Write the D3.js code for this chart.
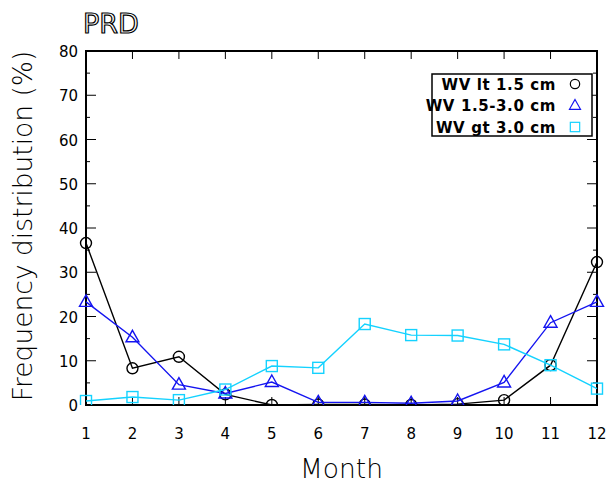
<meta charset="utf-8">
<style>
  body { margin: 0; background: #fff; }
  text { font-family: "DejaVu Sans", sans-serif; fill: #000; }
  .tick-label { font-size: 15px; }
  .axis-title { font-size: 26.5px; font-weight: 200; }
</style>
<div id="chart"></div>
<script src="https://d3js.org/d3.v7.min.js"></script>
<script>
  // data
  var months = [1, 2, 3, 4, 5, 6, 7, 8, 9, 10, 11, 12];
  var wvLow = [36.6, 8.3, 10.9, 2.4, 0, 0.1, 0.1, 0, 0.2, 1.1, 9, 32.3];
  var wvMid = [23.3, 15.3, 4.6, 2.6, 5.2, 0.6, 0.6, 0.4, 0.9, 5.1, 18.6, 23.3];
  var wvHigh = [0.9, 1.8, 1.1, 3.5, 8.8, 8.4, 18.3, 15.8, 15.7, 13.7, 9, 3.7];
  var yTicks = [0, 10, 20, 30, 40, 50, 60, 70, 80];
  var seriesNames = ["WV lt 1.5 cm", "WV 1.5-3.0 cm", "WV gt 3.0 cm"];

  var width = 607, height = 483;
  var margin = {top: 51, right: 10, bottom: 78, left: 86};
  var plotW = width - margin.left - margin.right,
      plotH = height - margin.top - margin.bottom;

  var x = d3.scaleLinear().domain([1, 12]).range([0, plotW]);
  var y = d3.scaleLinear().domain([0, 80]).range([plotH, 0]);

  var svg = d3.select("#chart").append("svg")
      .attr("width", width)
      .attr("height", height);

  var g = svg.append("g")
      .attr("transform", "translate(" + margin.left + "," + margin.top + ")");

  // frame
  g.append("rect")
      .attr("width", plotW)
      .attr("height", plotH)
      .attr("fill", "none")
      .attr("stroke", "#000")
      .attr("stroke-width", 2);

  // x ticks, bottom and top, pointing inward
  months.forEach(function (m) {
    g.append("line").attr("x1", x(m)).attr("x2", x(m))
        .attr("y1", plotH).attr("y2", plotH - 8).attr("stroke", "#000");
    g.append("line").attr("x1", x(m)).attr("x2", x(m))
        .attr("y1", 0).attr("y2", 8).attr("stroke", "#000");
    g.append("text").attr("class", "tick-label")
        .attr("x", x(m)).attr("y", plotH + 34)
        .attr("text-anchor", "middle")
        .text(m);
  });

  // y ticks: major every 10, minor every 5, both sides
  d3.range(0, 81, 5).forEach(function (v) {
    var len = v % 10 === 0 ? 10 : 4;
    g.append("line").attr("x1", 0).attr("x2", len)
        .attr("y1", y(v)).attr("y2", y(v)).attr("stroke", "#000");
    g.append("line").attr("x1", plotW).attr("x2", plotW - len)
        .attr("y1", y(v)).attr("y2", y(v)).attr("stroke", "#000");
  });
  yTicks.forEach(function (v) {
    g.append("text").attr("class", "tick-label")
        .attr("x", -8).attr("y", y(v) + 6)
        .attr("text-anchor", "end")
        .text(v);
  });

  var series = [
    {name: seriesNames[0], values: wvLow, color: "#000000", sym: "circle"},
    {name: seriesNames[1], values: wvMid, color: "#1414f0", sym: "triangle"},
    {name: seriesNames[2], values: wvHigh, color: "#14d2ff", sym: "square"}
  ];

  var line = d3.line()
      .x(function (d, i) { return x(months[i]); })
      .y(function (d) { return y(d); });

  function symbol(sel, sym, color) {
    if (sym === "circle") {
      sel.append("circle").attr("r", 5.5)
          .attr("fill", "none").attr("stroke", color).attr("stroke-width", 1.4);
    } else if (sym === "triangle") {
      sel.append("path").attr("d", "M0,-7L6.5,4.5L-6.5,4.5Z")
          .attr("fill", "none").attr("stroke", color).attr("stroke-width", 1.4);
    } else {
      sel.append("rect").attr("x", -5.5).attr("y", -5.5)
          .attr("width", 11).attr("height", 11)
          .attr("fill", "none").attr("stroke", color).attr("stroke-width", 1.4);
    }
  }

  svg.append("clipPath").attr("id", "clip")
      .append("rect").attr("x", -8).attr("y", -8)
      .attr("width", plotW + 16).attr("height", plotH + 8);

  series.forEach(function (s) {
    var sg = g.append("g").attr("clip-path", "url(#clip)");
    sg.append("path")
        .datum(s.values)
        .attr("d", line)
        .attr("fill", "none")
        .attr("stroke", s.color)
        .attr("stroke-width", 1.4);
    s.values.forEach(function (v, i) {
      var p = sg.append("g")
          .attr("transform", "translate(" + x(months[i]) + "," + y(v) + ")");
      symbol(p, s.sym, s.color);
    });
  });

  // legend
  var legend = svg.append("g").attr("transform", "translate(432,74)");
  legend.append("rect")
      .attr("width", 160).attr("height", 62)
      .attr("fill", "#fff").attr("stroke", "#000").attr("stroke-width", 1.5);
  series.forEach(function (s, i) {
    var ly = 10 + i * 21.5;
    legend.append("text")
        .attr("x", 124).attr("y", ly + 5.5)
        .attr("text-anchor", "end")
        .style("font-size", "15px")
        .style("font-weight", "bold")
        .style("letter-spacing", "0.6px")
        .text(s.name);
    var sg = legend.append("g").attr("transform", "translate(143," + ly + ") scale(0.85)");
    symbol(sg, s.sym, s.color);
  });

  // title, outlined letters
  svg.append("text")
      .attr("x", 83).attr("y", 33)
      .style("font-size", "27px")
      .style("fill", "#fff")
      .attr("stroke", "#000")
      .attr("stroke-width", 1.2)
      .text("PRD");

  // axis titles
  svg.append("text").attr("class", "axis-title")
      .attr("x", margin.left + plotW / 2).attr("y", 478)
      .attr("text-anchor", "middle")
      .text("Month");
  svg.append("text").attr("class", "axis-title")
      .attr("transform", "translate(32," + (margin.top + plotH / 2 - 2) + ") rotate(-90)")
      .attr("text-anchor", "middle")
      .text("Frequency distribution (%)");
</script>
